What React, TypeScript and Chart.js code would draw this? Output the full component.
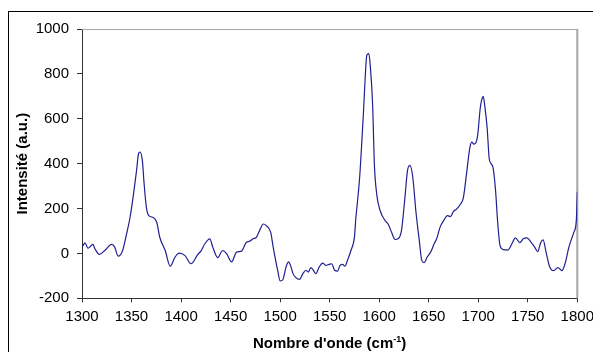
import { useEffect, useRef } from 'react';
import { Chart, registerables } from 'chart.js';

Chart.register(...registerables);

const wavenumbers = [
  1300, 1301, 1303, 1306, 1311, 1313, 1317.5, 1323, 1330, 1333, 1336.5, 1341, 1345, 1348.5, 1352, 1355, 1357, 1358.5,
  1361, 1362.5, 1365, 1367.5, 1372, 1375.5, 1378.5, 1384, 1389, 1394, 1398, 1404, 1410, 1417, 1420, 1424, 1429, 1432,
  1437, 1442, 1446, 1451, 1456, 1461, 1466, 1469, 1472.5, 1476, 1479.5, 1483, 1486, 1490.5, 1493, 1497.5, 1500, 1502.5,
  1506, 1508.5, 1511, 1513, 1516, 1519.5, 1523, 1526, 1528.5, 1531, 1533.5, 1536, 1539.5, 1543, 1546, 1549.5, 1552,
  1555, 1558, 1560.5, 1563, 1565.5, 1568, 1571.5, 1575, 1576.5, 1578.5, 1580.5, 1582.5, 1584, 1586, 1587.5, 1589.5,
  1591, 1593.5, 1595, 1597.5, 1601, 1606, 1609, 1612.5, 1616, 1619, 1622.5, 1626, 1628.5, 1631, 1634, 1637, 1640.5,
  1643, 1645.5, 1648.5, 1652, 1655.5, 1658, 1661.5, 1665, 1669, 1672, 1675, 1678, 1682, 1685, 1688.5, 1691.5, 1693.5,
  1695.5, 1697.5, 1699.5, 1702, 1703.5, 1705, 1706.5, 1709, 1711, 1712.5, 1715, 1717.5, 1719.5, 1722, 1725.5, 1730,
  1734, 1737.5, 1742, 1745.5, 1749, 1754, 1757, 1760, 1763, 1765.5, 1768.5, 1772, 1776, 1780.5, 1784.5, 1788, 1791.5,
  1796.5, 1799, 1800,
];

const intensities = [
  30, 35, 47, 23, 40, 21, -4, 13, 40, 28, -12, 13, 87, 160, 264, 367, 443, 452,
  411, 322, 205, 168, 160, 138, 72, 13, -57, -16, 1, -10, -46, -4, 10, 43, 65, 28,
  -19, 13, -1, -38, 6, 10, 50, 54, 65, 72, 104, 131, 124, 94, 28, -75, -122, -119,
  -60, -38, -60, -90, -108, -116, -90, -75, -83, -63, -75, -90, -60, -43, -53, -49, -46,
  -75, -79, -53, -49, -57, -31, 13, 72, 160, 249, 352, 499, 617, 794, 883, 890,
  838, 650, 411, 264, 190, 146, 131, 94, 62, 65, 102, 249, 367, 392, 337, 190, 57,
  -31, -41, -16, 6, 43, 65, 117, 146, 168, 164, 187, 197, 219, 249, 367, 470, 496,
  487, 492, 529, 647, 684, 700, 661, 559, 425, 403, 381, 279, 146, 35, 17, 15,
  43, 69, 48, 65, 69, 46, 28, 8, 48, 60, 5, -58, -77, -63, -77, -40, 28,
  94, 146, 275,
];

const xMin = 1300;
const xMax = 1800;
const xStep = 50;
const yMin = -200;
const yMax = 1000;
const yStep = 200;

const yTitle = 'Intensité (a.u.)';
const xTitleMain = "Nombre d'onde (cm";
const xTitleSup = '-1';
const xTitleEnd = ')';

const FONT = "'Liberation Sans', Arial, Helvetica, sans-serif";

export default function App() {
  const ref = useRef<HTMLCanvasElement>(null);

  useEffect(() => {
    document.body.style.margin = '0';
    document.documentElement.style.overflow = 'hidden';
    document.body.style.overflow = 'hidden';
    const canvas = ref.current;
    if (!canvas) return;

    const plotFrame = {
      id: 'plotFrame',
      beforeDatasetsDraw(chart: any) {
        const { ctx, chartArea: a } = chart;
        ctx.save();
        ctx.strokeStyle = '#a6a6a6';
        ctx.lineWidth = 1;
        ctx.beginPath();
        ctx.moveTo(a.left, Math.round(a.top) + 0.5);
        ctx.lineTo(a.right, Math.round(a.top) + 0.5);
        ctx.stroke();
        ctx.lineWidth = 2;
        ctx.beginPath();
        ctx.moveTo(a.right, a.top);
        ctx.lineTo(a.right, a.bottom);
        ctx.stroke();
        ctx.restore();
      },
      afterDraw(chart: any) {
        const { ctx, chartArea: a } = chart;
        ctx.save();
        const mainFont = `bold 15px ${FONT}`;
        const supFont = `bold 9px ${FONT}`;
        ctx.font = mainFont;
        const w1 = ctx.measureText(xTitleMain).width;
        const w3 = ctx.measureText(xTitleEnd).width;
        ctx.font = supFont;
        const w2 = ctx.measureText(xTitleSup).width;
        const total = w1 + w2 + w3;
        const cx = (a.left + a.right) / 2;
        let x = cx - total / 2;
        const baseY = 335.5;
        ctx.fillStyle = '#000';
        ctx.textBaseline = 'alphabetic';
        ctx.textAlign = 'left';
        ctx.font = mainFont;
        ctx.fillText(xTitleMain, x, baseY);
        x += w1;
        ctx.font = supFont;
        ctx.fillText(xTitleSup, x, baseY - 5.5);
        x += w2;
        ctx.font = mainFont;
        ctx.fillText(xTitleEnd, x, baseY);
        ctx.restore();
      },
    };

    const chart = new Chart(canvas, {
      type: 'line',
      data: {
        datasets: [
          {
            data: wavenumbers.map((w, i) => ({ x: w, y: intensities[i] })),
            borderColor: '#1f1f8f',
            borderWidth: 1.2,
            pointRadius: 0,
            cubicInterpolationMode: 'monotone',
            fill: false,
          },
        ],
      },
      options: {
        animation: false,
        responsive: false,
        devicePixelRatio: 1,
        layout: { padding: { left: 0, top: 14.7, right: 620 - 568.3, bottom: 0 } },
        plugins: { legend: { display: false }, tooltip: { enabled: false } },
        scales: {
          x: {
            type: 'linear',
            min: xMin,
            max: xMax,
            afterFit: (s: any) => {
              s.height = 340 - 286.3;
            },
            afterBuildTicks: (s: any) => {
              const t = [];
              for (let v = xMin; v <= xMax; v += xStep) t.push({ value: v });
              s.ticks = t;
            },
            ticks: {
              stepSize: xStep,
              color: '#000',
              font: { family: FONT, size: 15 },
              padding: 6,
              maxRotation: 0,
              autoSkip: false,
              callback: (v: any) => String(v),
            },
            grid: { display: true, drawOnChartArea: false, drawTicks: true, tickLength: 4, color: '#333', lineWidth: 1 },
            border: { display: true, color: '#333', width: 1 },
          },
          y: {
            type: 'linear',
            min: yMin,
            max: yMax,
            afterFit: (s: any) => {
              s.width = 73;
            },
            ticks: {
              stepSize: yStep,
              color: '#000',
              font: { family: FONT, size: 15 },
              padding: 8,
              callback: (v: any) => String(v),
            },
            grid: { display: true, drawOnChartArea: false, drawTicks: true, tickLength: 5, color: '#333', lineWidth: 1 },
            border: { display: true, color: '#333', width: 1 },
            title: {
              display: true,
              text: yTitle,
              color: '#000',
              font: { family: FONT, size: 15, weight: 'bold' },
              padding: { top: 5, bottom: 0 },
            },
          },
        },
      },
      plugins: [plotFrame],
    } as any);

    return () => chart.destroy();
  }, []);

  return (
    <div style={{ position: 'relative', width: 593, height: 352, overflow: 'hidden' }}>
      <div
        style={{
          position: 'absolute',
          left: 8,
          top: 11,
          width: 640,
          height: 400,
          border: '1px solid #000',
          boxSizing: 'border-box',
        }}
      >
        <canvas ref={ref} width={620} height={340} style={{ display: 'block', width: 620, height: 340 }} />
      </div>
    </div>
  );
}
